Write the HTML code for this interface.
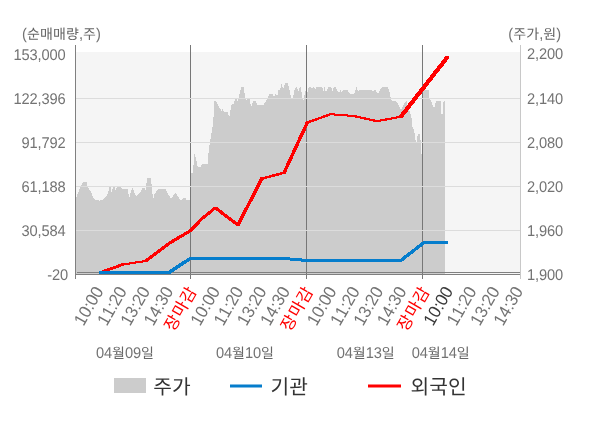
<!DOCTYPE html>
<html lang="ko">
<head>
<meta charset="utf-8">
<title>순매매량 / 주가 차트</title>
<style>
html,body{margin:0;padding:0;background:#fff;}
body{width:600px;height:428px;overflow:hidden;font-family:"Liberation Sans","Noto Sans CJK KR",sans-serif;}
svg{display:block;will-change:transform;}
svg text{font-family:"Liberation Sans","Noto Sans CJK KR",sans-serif;text-rendering:geometricPrecision;}
</style>
</head>
<body>
<svg width="600" height="428" viewBox="0 0 600 428" font-family="'Liberation Sans', 'Noto Sans CJK KR', sans-serif">
<rect width="600" height="428" fill="#fff"/>
<rect x="76" y="52" width="444" height="222" fill="#f5f5f5"/>
<path shape-rendering="crispEdges" fill="#cccccc" d="M76 274 L76 198 L79 190.4 L80.4 186.4 L83.1 182.3 L86.6 182.3 L87.8 187 L90.7 191.6 L94.2 199.4 L99.5 200.6 L103.5 199.2 L107 195.7 L109.4 187.5 L110.5 187 L111.5 191.6 L112.9 187.5 L114.6 187 L115.5 189.9 L117 187.3 L121 187.3 L123.4 189.3 L127.5 189.3 L129.2 198 L131 191 L132.7 187.3 L133.9 191.6 L136.3 196.3 L139.2 193.4 L140 192.8 L142.9 187.5 L144.4 187.5 L145.3 191.6 L146.4 184 L147.2 178.2 L150.7 178.2 L151.7 185.8 L152.3 193.4 L153.4 198.6 L154.6 194 L158.1 189.3 L165.7 189.3 L168 194 L171 198.6 L175 193.4 L176.2 193.4 L180.9 201 L183.2 197.5 L185 197.5 L186.7 200.1 L190.5 200.1 L190.5 173 L193 173 L194.2 153.3 L195.9 158.5 L197.7 166.7 L200.6 166.7 L202.4 164.2 L207.6 164.2 L208.8 149.2 L210 142.2 L212.3 128.2 L213.4 120 L213.8 111 L214.3 101.1 L215.8 101.1 L218.7 106.4 L221.6 111 L222.4 109.3 L223.9 112 L227.5 112 L229.4 116.9 L230.6 109.9 L231.3 105.2 L233.3 104 L235.6 98.8 L236.8 98.8 L237.4 101.7 L238.3 98.8 L239.1 95.9 L241.1 87.1 L243.8 87.1 L245 97.6 L246.1 100 L247.3 98.8 L248.5 99.4 L249.6 99.4 L251.2 106.6 L253.2 101.1 L255.5 101.1 L257.2 104.6 L263.7 104.6 L266.8 99.9 L269.1 94 L272.6 94 L274.3 97 L275.3 94 L276.1 95.2 L277.9 95.2 L278.4 90.3 L280 90 L281.4 83.3 L283.1 88.8 L285.1 83.3 L287.8 83.3 L290.1 92.9 L290.9 97.5 L292.1 99.9 L293 97.5 L294.2 91.1 L296 87 L296.8 87 L298.3 91.7 L299.8 87 L300.6 87 L301.8 94 L303 101.6 L304.1 97.5 L304.7 94 L305.9 90 L307.6 91.7 L308.5 87.6 L311.1 87 L312.3 88.8 L313.5 87 L315.2 89.4 L316.4 87.3 L322.2 87.3 L323.4 91.1 L324.6 87 L325.4 91.1 L326.3 91.7 L328.1 87.3 L331.4 87.3 L332.3 91.1 L334.1 87 L335.6 87 L338.2 91.9 L339.9 91.9 L340.5 90 L341.7 91.9 L343.1 90.3 L347.5 90.3 L350.4 94 L353.9 94 L355.1 92.3 L355.9 87 L356.9 87 L357.8 91.9 L359.2 90.3 L372 90.3 L373 91.9 L374.4 90 L375.6 90.3 L377.3 93.1 L378.5 93.1 L379.6 90.3 L382 87.3 L387.8 87.3 L389.6 92.3 L390.7 97.5 L391.9 100.5 L396.2 101 L399 106 L401.1 109.5 L403.9 103.8 L406 101 L407.1 101 L407.7 106 L410.2 112.3 L411.9 120 L412.4 126.4 L414.2 130.5 L415.4 138.7 L416.3 145.7 L416.8 138.7 L417.9 134 L419.8 134 L420.6 141 L421.2 153.9 L422 153.9 L422.5 88.5 L426.4 90.5 L427.8 89.8 L428.7 90.5 L429.6 99.6 L431 101 L434.1 108.8 L436 101 L440.7 101 L440.8 113.7 L442.7 113.7 L442.8 106.5 L443.7 101 L445 101 L445 274 Z"/>
<rect x="190" y="45" width="1" height="234" fill="#777777"/>
<rect x="306" y="45" width="1" height="234" fill="#777777"/>
<rect x="422" y="45" width="1" height="234" fill="#777777"/>
<rect x="76" y="98" width="444" height="1" fill="#dcdcdc"/>
<rect x="76" y="142" width="444" height="1" fill="#dcdcdc"/>
<rect x="76" y="186" width="444" height="1" fill="#dcdcdc"/>
<rect x="76" y="230" width="444" height="1" fill="#dcdcdc"/>
<rect x="77" y="272" width="443" height="1" fill="#808080"/>
<rect x="75" y="274" width="446" height="1" fill="#808080"/>
<rect x="75" y="45" width="1" height="234" fill="#808080"/>
<rect x="520" y="45" width="1" height="234" fill="#c8c8c8"/>
<path shape-rendering="crispEdges" fill="#ff0000" d="M99.35 271.35 L121.55 263.35 L123.85 263.35 L123.85 265.65 L101.65 273.65 L99.35 273.65ZM121.75 263.55 L144.85 260.05 L146.75 260.05 L146.75 261.95 L123.65 265.45 L121.75 265.45ZM144.65 259.85 L167.85 242.25 L170.15 242.25 L170.15 244.55 L146.95 262.15 L144.65 262.15ZM167.85 242.25 L189.35 229.45 L191.65 229.45 L191.65 231.75 L170.15 244.55 L167.85 244.55ZM189.4 229.5 L201.2 217.3 L203.4 217.3 L203.4 219.5 L191.6 231.7 L189.4 231.7ZM201.2 217.3 L214.3 206.7 L216.5 206.7 L216.5 208.9 L203.4 219.5 L201.2 219.5ZM214.25 206.65 L216.55 206.65 L239.15 223.95 L239.15 226.25 L236.85 226.25 L214.25 208.95ZM236.7 223.8 L260.4 177.4 L263 177.4 L263 180 L239.3 226.4 L236.7 226.4ZM260.65 177.65 L283.05 171.65 L285.15 171.65 L285.15 173.75 L262.75 179.75 L260.65 179.75ZM282.8 171.4 L306 121.3 L308.6 121.3 L308.6 123.9 L285.4 174 L282.8 174ZM306.35 121.65 L329.55 113.25 L331.45 113.25 L331.45 115.15 L308.25 123.55 L306.35 123.55ZM329.55 113.25 L331.45 113.25 L354.75 115.05 L354.75 116.95 L352.85 116.95 L329.55 115.15ZM352.85 115.05 L354.75 115.05 L377.95 120.25 L377.95 122.15 L376.05 122.15 L352.85 116.95ZM376.05 120.25 L399.85 115.75 L401.75 115.75 L401.75 117.65 L377.95 122.15 L376.05 122.15ZM399.3 115.2 L445.8 55.8 L448.8 55.8 L448.8 58.8 L402.3 118.2 L399.3 118.2Z"/>
<path shape-rendering="crispEdges" fill="#057dcc" d="M99 271 L170.5 271 L170.5 274 L99 274ZM167.75 271.25 L188.95 257.25 L191.45 257.25 L191.45 259.75 L170.25 273.75 L167.75 273.75ZM188.7 257 L285.5 257 L285.5 260 L188.7 260ZM282.6 257.1 L285.4 257.1 L308.7 259.1 L308.7 261.9 L305.9 261.9 L282.6 259.9ZM305.8 259 L402.3 259 L402.3 262 L305.8 262ZM399.6 259.3 L422.8 241.3 L425.2 241.3 L425.2 243.7 L402 261.7 L399.6 261.7ZM422.5 241 L448.1 241 L448.1 244 L422.5 244Z"/>
<g transform="translate(65.5 59.8)" fill="#666666" font-size="14.67"><text transform="scale(1 1.06)" x="-52.01 -44.01 -36.01 -28 -24.01 -16.01 -8.01" y="0" fill="#737373">153,000</text></g>
<g transform="translate(65.5 103.8)" fill="#666666" font-size="14.67"><text transform="scale(1 1.06)" x="-52.01 -44.01 -36.01 -28 -24.01 -16.01 -8.01" y="0" fill="#737373">122,396</text></g>
<g transform="translate(65.5 147.8)" fill="#666666" font-size="14.67"><text transform="scale(1 1.06)" x="-44.01 -36.01 -28 -24.01 -16.01 -8.01" y="0" fill="#737373">91,792</text></g>
<g transform="translate(65.5 191.8)" fill="#666666" font-size="14.67"><text transform="scale(1 1.06)" x="-44.01 -36.01 -28 -24.01 -16.01 -8.01" y="0" fill="#737373">61,188</text></g>
<g transform="translate(65.5 235.8)" fill="#666666" font-size="14.67"><text transform="scale(1 1.06)" x="-44.01 -36.01 -28 -24.01 -16.01 -8.01" y="0" fill="#737373">30,584</text></g>
<g transform="translate(68.1 279.8)" fill="#666666" font-size="14.67"><text transform="scale(1 1.06)" x="-20.9 -16.01 -8.01" y="0" fill="#737373">-20</text></g>
<g transform="translate(527 58.7)" fill="#666666" font-size="14.67"><text transform="scale(1 1.06)" x="-0.01 8 11.99 19.99 27.99" y="0" fill="#737373">2,200</text></g>
<g transform="translate(527 103.8)" fill="#666666" font-size="14.67"><text transform="scale(1 1.06)" x="-0.01 8 11.99 19.99 27.99" y="0" fill="#737373">2,140</text></g>
<g transform="translate(527 147.8)" fill="#666666" font-size="14.67"><text transform="scale(1 1.06)" x="-0.01 8 11.99 19.99 27.99" y="0" fill="#737373">2,080</text></g>
<g transform="translate(527 191.8)" fill="#666666" font-size="14.67"><text transform="scale(1 1.06)" x="-0.01 8 11.99 19.99 27.99" y="0" fill="#737373">2,020</text></g>
<g transform="translate(527 235.8)" fill="#666666" font-size="14.67"><text transform="scale(1 1.06)" x="-0.01 8 11.99 19.99 27.99" y="0" fill="#737373">1,960</text></g>
<g transform="translate(527 279.8)" fill="#666666" font-size="14.67"><text transform="scale(1 1.06)" x="-0.01 8 11.99 19.99 27.99" y="0" fill="#737373">1,900</text></g>
<g transform="translate(22 39.2)" fill="#666666" font-size="14.67"><text transform="scale(1 1.06)" x="0.04" y="0" fill="#737373">(</text><text transform="scale(1 1.06)" x="57" y="0" fill="#737373">,</text><text transform="scale(1 1.06)" x="74.04" y="0" fill="#737373">)</text><text x="5 18 31 44" y="0" font-size="14" fill="#666666">순매매량</text><text x="61" y="0" font-size="14" fill="#666666">주</text></g>
<g transform="translate(508.3 39.2)" fill="#666666" font-size="14.67"><text transform="scale(1 1.06)" x="0.04" y="0" fill="#737373">(</text><text transform="scale(1 1.06)" x="31" y="0" fill="#737373">,</text><text transform="scale(1 1.06)" x="48.04" y="0" fill="#737373">)</text><text x="5 18" y="0" font-size="14" fill="#666666">주가</text><text x="35" y="0" font-size="14" fill="#666666">원</text></g>
<g transform="translate(104 291) rotate(-60)" fill="#737373" font-size="16.5"><text transform="scale(1 1.06)" x="-41.23 -32.07 -22.9 -18.32 -9.17" y="0">10:00</text></g>
<g transform="translate(127.31 291) rotate(-60)" fill="#737373" font-size="16.5"><text transform="scale(1 1.06)" x="-41.23 -32.07 -22.9 -18.32 -9.17" y="0">11:20</text></g>
<g transform="translate(150.62 291) rotate(-60)" fill="#737373" font-size="16.5"><text transform="scale(1 1.06)" x="-41.23 -32.07 -22.9 -18.32 -9.17" y="0">13:20</text></g>
<g transform="translate(173.93 291) rotate(-60)" fill="#737373" font-size="16.5"><text transform="scale(1 1.06)" x="-41.23 -32.07 -22.9 -18.32 -9.17" y="0">14:30</text></g>
<g transform="translate(197.24 291) rotate(-60)" fill="#ff0000" font-size="16.5"><text x="-47.5 -31.5 -15.5" y="0" fill="#ff0000">장마감</text></g>
<g transform="translate(220.55 291) rotate(-60)" fill="#737373" font-size="16.5"><text transform="scale(1 1.06)" x="-41.23 -32.07 -22.9 -18.32 -9.17" y="0">10:00</text></g>
<g transform="translate(243.86 291) rotate(-60)" fill="#737373" font-size="16.5"><text transform="scale(1 1.06)" x="-41.23 -32.07 -22.9 -18.32 -9.17" y="0">11:20</text></g>
<g transform="translate(267.17 291) rotate(-60)" fill="#737373" font-size="16.5"><text transform="scale(1 1.06)" x="-41.23 -32.07 -22.9 -18.32 -9.17" y="0">13:20</text></g>
<g transform="translate(290.48 291) rotate(-60)" fill="#737373" font-size="16.5"><text transform="scale(1 1.06)" x="-41.23 -32.07 -22.9 -18.32 -9.17" y="0">14:30</text></g>
<g transform="translate(313.79 291) rotate(-60)" fill="#ff0000" font-size="16.5"><text x="-47.5 -31.5 -15.5" y="0" fill="#ff0000">장마감</text></g>
<g transform="translate(337.1 291) rotate(-60)" fill="#737373" font-size="16.5"><text transform="scale(1 1.06)" x="-41.23 -32.07 -22.9 -18.32 -9.17" y="0">10:00</text></g>
<g transform="translate(360.41 291) rotate(-60)" fill="#737373" font-size="16.5"><text transform="scale(1 1.06)" x="-41.23 -32.07 -22.9 -18.32 -9.17" y="0">11:20</text></g>
<g transform="translate(383.72 291) rotate(-60)" fill="#737373" font-size="16.5"><text transform="scale(1 1.06)" x="-41.23 -32.07 -22.9 -18.32 -9.17" y="0">13:20</text></g>
<g transform="translate(407.03 291) rotate(-60)" fill="#737373" font-size="16.5"><text transform="scale(1 1.06)" x="-41.23 -32.07 -22.9 -18.32 -9.17" y="0">14:30</text></g>
<g transform="translate(430.34 291) rotate(-60)" fill="#ff0000" font-size="16.5"><text x="-47.5 -31.5 -15.5" y="0" fill="#ff0000">장마감</text></g>
<g transform="translate(453.65 291) rotate(-60)" fill="#3a3a3a" font-size="16.5"><text transform="scale(1 1.06)" x="-41.23 -32.07 -22.9 -18.32 -9.17" y="0">10:00</text></g>
<g transform="translate(476.96 291) rotate(-60)" fill="#737373" font-size="16.5"><text transform="scale(1 1.06)" x="-41.23 -32.07 -22.9 -18.32 -9.17" y="0">11:20</text></g>
<g transform="translate(500.27 291) rotate(-60)" fill="#737373" font-size="16.5"><text transform="scale(1 1.06)" x="-41.23 -32.07 -22.9 -18.32 -9.17" y="0">13:20</text></g>
<g transform="translate(523.58 291) rotate(-60)" fill="#737373" font-size="16.5"><text transform="scale(1 1.06)" x="-41.23 -32.07 -22.9 -18.32 -9.17" y="0">14:30</text></g>
<g transform="translate(96 358)" fill="#666666" font-size="14.67"><text transform="scale(1 1.06)" x="-0.01 7.99" y="0" fill="#737373">04</text><text transform="scale(1 1.06)" x="28.99 36.99" y="0" fill="#737373">09</text><text x="16" y="0" font-size="14" fill="#666666">월</text><text x="45" y="0" font-size="14" fill="#666666">일</text></g>
<g transform="translate(216 358)" fill="#666666" font-size="14.67"><text transform="scale(1 1.06)" x="-0.01 7.99" y="0" fill="#737373">04</text><text transform="scale(1 1.06)" x="28.99 36.99" y="0" fill="#737373">10</text><text x="16" y="0" font-size="14" fill="#666666">월</text><text x="45" y="0" font-size="14" fill="#666666">일</text></g>
<g transform="translate(336.8 358)" fill="#666666" font-size="14.67"><text transform="scale(1 1.06)" x="-0.01 7.99" y="0" fill="#737373">04</text><text transform="scale(1 1.06)" x="28.99 36.99" y="0" fill="#737373">13</text><text x="16" y="0" font-size="14" fill="#666666">월</text><text x="45" y="0" font-size="14" fill="#666666">일</text></g>
<g transform="translate(411.7 358)" fill="#666666" font-size="14.67"><text transform="scale(1 1.06)" x="-0.01 7.99" y="0" fill="#737373">04</text><text transform="scale(1 1.06)" x="28.99 36.99" y="0" fill="#737373">14</text><text x="16" y="0" font-size="14" fill="#666666">월</text><text x="45" y="0" font-size="14" fill="#666666">일</text></g>
<rect x="114" y="378" width="32" height="15" fill="#cccccc"/>
<g transform="translate(152.7 394.4)" fill="#333333" font-size="20.3"><text x="0.5 19.2" y="0" fill="#333333">주가</text></g>
<rect x="230" y="384.5" width="32" height="3" fill="#057dcc"/>
<g transform="translate(270.1 394.4)" fill="#333333" font-size="20.3"><text x="0.5 19.2" y="0" fill="#333333">기관</text></g>
<rect x="368" y="384.5" width="33" height="3" fill="#ff0000"/>
<g transform="translate(410 394.4)" fill="#333333" font-size="20.3"><text x="0.5 19.2 37.9" y="0" fill="#333333">외국인</text></g>
</svg>
</body>
</html>
